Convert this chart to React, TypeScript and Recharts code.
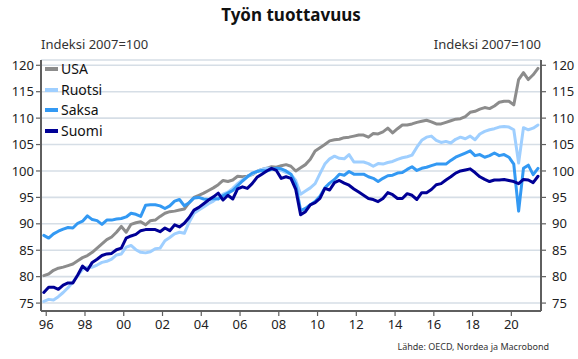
import React from 'react';
import { LineChart, Line, XAxis, YAxis, CartesianGrid } from 'recharts';

const FONT = "'Noto Sans', 'Open Sans', sans-serif";

// Quarterly series, first observation 1995 Q4
const startYear = 1995;
const startQuarter = 4;

const usa = [
  80.2, 80.5, 81.2, 81.6, 81.8, 82.1, 82.4, 83.0, 83.6, 84.0,
  84.6, 85.4, 86.2, 87.0, 87.5, 88.4, 89.5, 88.4, 89.9, 90.2,
  90.4, 89.8, 90.6, 90.7, 91.4, 92.0, 92.3, 92.4, 92.6, 92.8,
  94.0, 95.0, 95.4, 95.8, 96.3, 96.8, 97.4, 98.2, 98.0, 98.3,
  99.0, 98.9, 99.0, 99.3, 99.9, 100.3, 100.5, 100.8, 100.7, 101.0,
  101.2, 100.9, 100.0, 100.6, 101.2, 102.2, 103.8, 104.4, 105.0, 105.7,
  105.9, 106.0, 106.3, 106.4, 106.6, 106.8, 106.8, 106.4, 107.1, 107.0,
  107.4, 108.1, 107.2, 108.0, 108.7, 108.7, 108.9, 109.2, 109.4, 109.6,
  109.3, 108.9, 108.9, 109.2, 109.5, 109.8, 109.9, 110.3, 111.1, 111.3,
  111.7, 112.0, 111.8, 112.3, 113.0, 113.2, 113.2, 112.5, 117.3, 118.6,
  117.3, 118.2, 119.4,
];

const ruotsi = [
  75.3, 75.7, 75.6, 76.2, 77.0, 77.9, 79.0, 80.2, 81.4, 81.8,
  81.8, 82.2, 82.7, 82.9, 83.3, 84.1, 84.3, 85.6, 85.9, 85.1,
  84.6, 84.5, 84.7, 85.3, 85.4, 86.8, 87.4, 88.1, 88.4, 88.2,
  90.3, 92.0, 92.6, 93.2, 93.8, 94.3, 95.0, 95.6, 96.0, 96.7,
  97.6, 98.3, 98.9, 99.4, 99.9, 100.3, 100.5, 100.5, 100.2, 100.1,
  99.7, 99.4, 98.2, 95.6, 96.2, 96.8, 97.6, 99.5, 101.3, 102.3,
  102.8, 102.4, 102.3, 103.1, 101.7, 101.7, 101.7, 101.4, 100.9, 101.4,
  101.3, 101.6, 101.8, 102.2, 102.5, 102.7, 103.0, 104.5, 105.8, 106.4,
  106.6, 105.8, 105.4, 105.6, 105.3, 106.0, 106.4, 106.1, 106.6, 105.9,
  107.0, 107.5, 107.8, 108.0, 108.3, 108.4, 108.3, 107.8, 101.5, 108.2,
  107.8, 108.1, 108.7,
];

const saksa = [
  87.8, 87.3, 88.1, 88.6, 89.0, 89.3, 89.2, 90.1, 90.5, 91.5,
  90.8, 90.6, 89.9, 90.7, 90.7, 90.9, 91.0, 91.3, 92.0, 91.8,
  91.4, 93.5, 93.6, 93.6, 93.4, 92.9, 93.4, 94.3, 94.6, 93.4,
  94.0, 94.9, 95.0, 94.7, 94.6, 94.8, 94.7, 95.3, 95.8, 96.3,
  97.2, 98.1, 98.9, 99.6, 99.9, 100.1, 100.0, 100.3, 100.5, 100.4,
  100.0, 99.4, 97.5, 92.5, 92.9, 93.6, 94.2, 95.2, 96.8, 97.7,
  98.4, 99.4, 99.2, 99.9, 99.4, 99.4, 99.4, 98.9, 98.6, 98.0,
  98.6, 99.1, 99.2, 99.6, 99.7, 100.3, 100.8, 100.1, 100.5, 100.7,
  101.0, 101.3, 101.3, 101.3, 102.0, 102.6, 103.0, 103.4, 103.8, 102.9,
  103.1, 102.6, 102.9, 103.4, 102.9, 103.1, 102.6, 101.3, 92.4, 100.5,
  101.1, 99.3, 100.5,
];

const suomi = [
  77.0, 78.0, 78.0, 77.6, 78.4, 78.8, 78.8, 80.3, 82.0, 81.2,
  82.7, 83.3, 84.0, 84.3, 84.4, 85.1, 85.4, 87.3, 87.7, 88.0,
  88.7, 88.9, 88.9, 88.9, 88.5, 89.2, 88.7, 89.8, 89.4, 90.1,
  91.2, 92.6, 93.1, 93.8, 94.5, 95.1, 95.8, 94.5, 95.4, 94.7,
  96.6, 97.0, 96.7, 97.6, 98.8, 99.4, 100.0, 100.5, 100.1, 98.6,
  98.9, 98.6, 96.5, 91.7, 92.3, 93.6, 94.0, 94.8, 96.7, 96.4,
  97.8, 98.2, 97.7, 97.3, 96.6, 96.0, 95.4, 94.8, 94.6, 94.2,
  94.8, 95.9, 95.5, 94.8, 94.8, 95.7, 95.4, 94.6, 95.9, 95.9,
  96.5, 97.4, 97.6, 98.3, 98.9, 99.6, 100.0, 100.2, 100.4, 99.7,
  98.9, 98.4, 98.0, 98.3, 98.3, 98.4, 98.2, 98.0, 97.6, 98.4,
  98.3, 97.8, 99.0,
];

const seriesNames = ['USA', 'Ruotsi', 'Saksa', 'Suomi'];
const seriesKeys = ['usa', 'ruotsi', 'saksa', 'suomi'];
const seriesColors = ['#8c8c8c', '#9fcfff', '#3399f3', '#000096'];
const seriesValues = [usa, ruotsi, saksa, suomi];

const xTicks = [1996, 1998, 2000, 2002, 2004, 2006, 2008, 2010, 2012, 2014, 2016, 2018, 2020];
const yTicks = [75, 80, 85, 90, 95, 100, 105, 110, 115, 120];

const title = 'Työn tuottavuus';
const axisTitle = 'Indeksi 2007=100';
const source = 'Lähde: OECD, Nordea ja Macrobond';

const data = usa.map((_, i) => {
  const q0 = startQuarter - 1 + i;
  const year = startYear + Math.floor(q0 / 4);
  const quarter = (q0 % 4) + 1;
  const row: Record<string, number | string> = {
    period: `${year}Q${quarter}`,
    t: year + (quarter - 0.5) / 4,
  };
  seriesKeys.forEach((k, s) => {
    row[k] = seriesValues[s][i];
  });
  return row;
});

const AXIS = '#5f5f5f';
const GRID = '#d6dee6';

export default function App() {
  return (
    <div
      style={{
        position: 'absolute',
        left: 0,
        top: 0,
        width: 578,
        height: 359,
        background: '#fff',
        fontFamily: FONT,
        color: '#222',
      }}
    >
      <div
        style={{
          position: 'absolute',
          left: 0,
          top: 5,
          width: 582,
          textAlign: 'center',
          fontSize: 17,
          fontWeight: 700,
          lineHeight: '20px',
          color: '#111',
        }}
      >
        {title}
      </div>
      <div
        style={{
          position: 'absolute',
          left: 41,
          top: 36,
          fontSize: 13,
          lineHeight: '16px',
          color: '#333',
        }}
      >
        {axisTitle}
      </div>
      <div
        style={{
          position: 'absolute',
          right: 578 - 541,
          top: 36,
          fontSize: 13,
          lineHeight: '16px',
          color: '#333',
          textAlign: 'right',
        }}
      >
        {axisTitle}
      </div>
      <LineChart
        width={578}
        height={359}
        data={data}
        margin={{ top: 60, right: 0, bottom: 18, left: 0 }}
        style={{ position: 'absolute', left: 0, top: 0 }}
      >
        <CartesianGrid yAxisId="left" vertical={false} stroke={GRID} strokeWidth={1.6} />
        <XAxis
          dataKey="t"
          type="number"
          domain={[1995.73, 2021.53]}
          ticks={xTicks}
          allowDataOverflow
          height={30}
          tickFormatter={(v: number) => String(v % 100).padStart(2, '0')}
          tick={{ fill: '#222', fontSize: 13, fontFamily: FONT }}
          tickSize={5}
          tickMargin={4}
          axisLine={{ stroke: AXIS, strokeWidth: 2 }}
          tickLine={{ stroke: AXIS, strokeWidth: 1.2 }}
          interval={0}
        />
        <YAxis
          yAxisId="left"
          orientation="left"
          width={41}
          domain={[73.5, 121]}
          ticks={yTicks}
          allowDataOverflow
          tick={{ fill: '#222', fontSize: 13, fontFamily: FONT }}
          tickSize={5}
          tickMargin={2}
          axisLine={{ stroke: AXIS, strokeWidth: 2 }}
          tickLine={{ stroke: AXIS, strokeWidth: 1.2 }}
          interval={0}
        />
        <YAxis
          yAxisId="right"
          orientation="right"
          width={37}
          domain={[73.5, 121]}
          ticks={yTicks}
          allowDataOverflow
          tick={{ fill: '#222', fontSize: 13, fontFamily: FONT, textAnchor: 'start' }}
          tickSize={5}
          tickMargin={6}
          axisLine={{ stroke: AXIS, strokeWidth: 2 }}
          tickLine={{ stroke: AXIS, strokeWidth: 1.2 }}
          interval={0}
        />
        {seriesKeys.map((k, s) => (
          <Line
            key={k}
            yAxisId="left"
            type="linear"
            dataKey={k}
            name={seriesNames[s]}
            stroke={seriesColors[s]}
            strokeWidth={3}
            dot={false}
            strokeLinejoin="round"
            strokeLinecap="round"
            isAnimationActive={false}
          />
        ))}
      </LineChart>
      <div style={{ position: 'absolute', left: 45, top: 59 }}>
        {seriesNames.map((n, s) => (
          <div
            key={n}
            style={{
              display: 'flex',
              alignItems: 'center',
              height: 20.6,
              fontSize: 14,
              lineHeight: '20px',
              color: '#111',
            }}
          >
            <span
              style={{
                display: 'inline-block',
                width: 13,
                height: 4,
                background: seriesColors[s],
                marginRight: 3,
              }}
            />
            <span>{n}</span>
          </div>
        ))}
      </div>
      <div
        style={{
          position: 'absolute',
          right: 578 - 549,
          top: 341,
          fontSize: 9,
          lineHeight: '12px',
          color: '#333',
          textAlign: 'right',
          whiteSpace: 'nowrap',
        }}
      >
        {source}
      </div>
    </div>
  );
}
